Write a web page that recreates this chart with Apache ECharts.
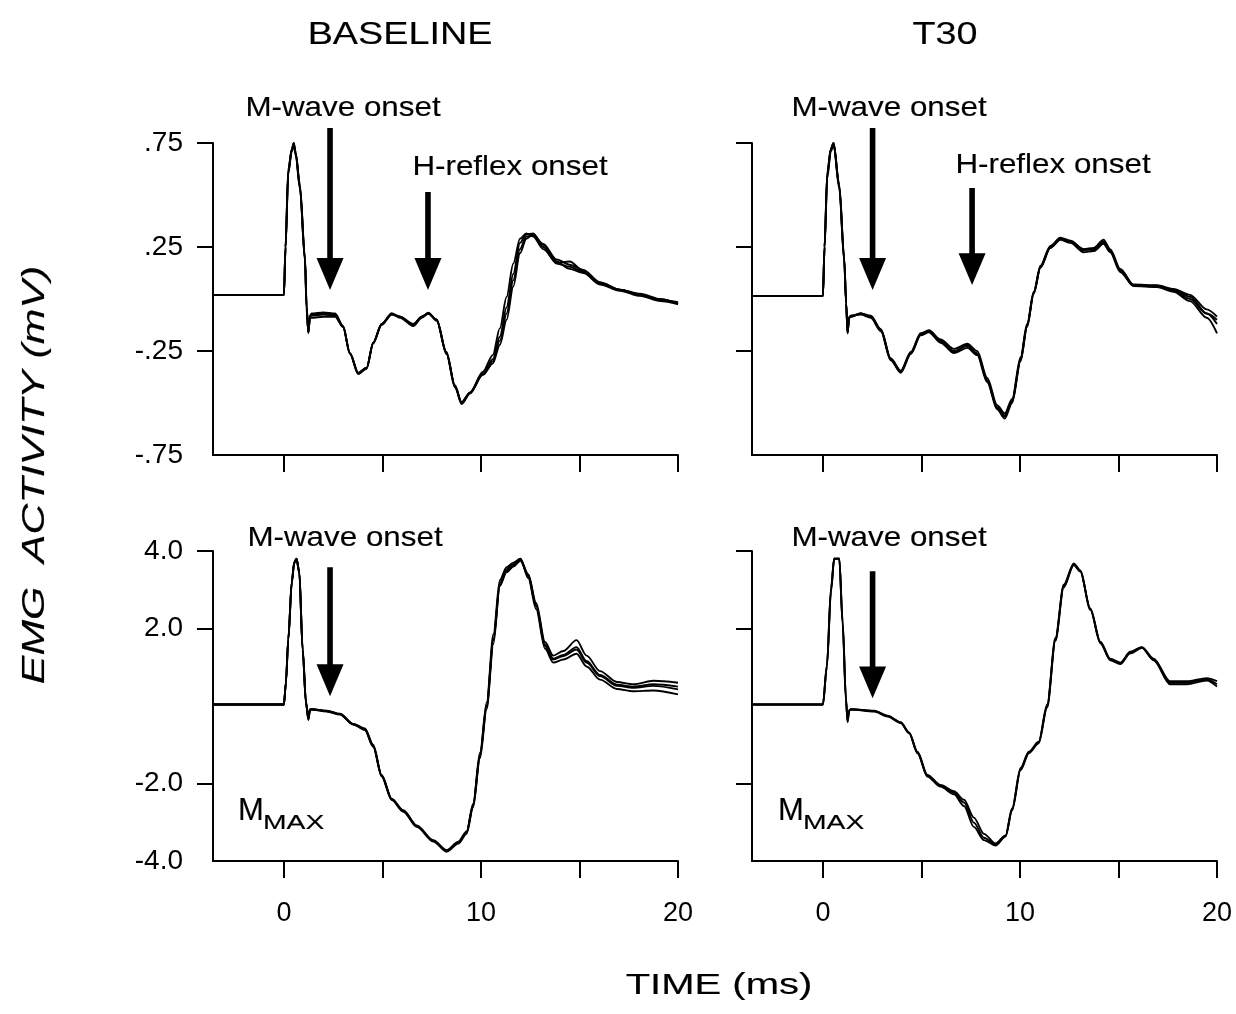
<!DOCTYPE html>
<html><head><meta charset="utf-8">
<script src="https://cdn.jsdelivr.net/npm/echarts@6/dist/echarts.min.js"></script>
<style>html,body{margin:0;padding:0;background:#fff}#c{width:1236px;height:1014px}</style>
</head><body><div id="c"></div><script>
// ---------- DATA ----------
const panelTitles = ['BASELINE', 'T30'];
const xTicks = [0, 5, 10, 15, 20];
const xTickLabels = [0, 10, 20];
const yTicksTop = [-0.25, 0.25, 0.75];
const yLabelsTop = [-0.75, -0.25, 0.25, 0.75];
const yTicksBottom = [-2, 2, 4];
const yLabelsBottom = [-4, -2, 2, 4];

// Top-left (BASELINE, H-reflex)
const tTL = [-3.6,-2,-1,0,0.08,0.22,0.4,0.5,0.6,0.81,1.07,1.15,1.24,1.32,1.4,2.0,2.6,3.0,3.35,3.77,4.2,4.53,4.96,5.47,5.89,6.56,7.0,7.33,7.75,8.25,8.68,9.02,9.44,10.1,10.6,10.96,11.3,11.64,11.98,12.3,12.65,13.16,13.84,14.5,15.2,16.04,17.06,18.07,19.1,20];
const vTL1 = [0.02,0.02,0.02,0.02,0.25,0.62,0.72,0.75,0.7,0.54,0.19,-0.04,-0.165,-0.08,-0.07,-0.065,-0.07,-0.13,-0.26,-0.36,-0.33,-0.21,-0.12,-0.07,-0.085,-0.125,-0.085,-0.066,-0.1,-0.26,-0.42,-0.50,-0.45,-0.36,-0.29,-0.18,-0.04,0.12,0.27,0.31,0.315,0.25,0.17,0.155,0.13,0.075,0.043,0.02,-0.005,-0.02];
const vTL2 = [0.02,0.02,0.02,0.02,0.25,0.62,0.72,0.74,0.69,0.53,0.18,-0.05,-0.16,-0.09,-0.09,-0.085,-0.085,-0.135,-0.26,-0.355,-0.33,-0.21,-0.12,-0.075,-0.085,-0.12,-0.085,-0.07,-0.1,-0.255,-0.42,-0.495,-0.45,-0.35,-0.27,-0.14,0.01,0.17,0.29,0.315,0.3,0.24,0.175,0.18,0.135,0.08,0.045,0.025,0.0,-0.025];
const vTL3 = [0.02,0.02,0.02,0.02,0.24,0.6,0.72,0.75,0.7,0.55,0.2,-0.03,-0.16,-0.08,-0.075,-0.07,-0.075,-0.13,-0.265,-0.36,-0.335,-0.215,-0.12,-0.07,-0.09,-0.13,-0.09,-0.07,-0.1,-0.265,-0.425,-0.505,-0.455,-0.36,-0.3,-0.2,-0.07,0.09,0.24,0.3,0.305,0.26,0.18,0.145,0.125,0.07,0.04,0.015,-0.01,-0.025];
const vTL4 = [0.02,0.02,0.02,0.02,0.25,0.61,0.71,0.74,0.7,0.54,0.19,-0.04,-0.16,-0.085,-0.08,-0.075,-0.08,-0.135,-0.26,-0.355,-0.33,-0.21,-0.125,-0.075,-0.085,-0.125,-0.085,-0.07,-0.105,-0.26,-0.415,-0.5,-0.45,-0.365,-0.31,-0.22,-0.1,0.06,0.22,0.29,0.31,0.265,0.19,0.165,0.14,0.08,0.045,0.02,-0.005,-0.015];

// Top-right (T30, H-reflex)
const tTR = [-3.6,-2,0,0.08,0.22,0.4,0.54,0.83,1.08,1.18,1.25,1.33,1.42,1.92,2.43,2.94,3.44,3.95,4.46,4.96,5.38,5.97,6.65,7.33,7.83,8.34,8.84,9.23,9.6,10.03,10.36,10.7,11.04,11.54,12.05,12.56,13.23,13.74,14.24,14.58,15.09,15.76,16.95,17.79,18.63,19.48,20];
const vTR1 = [0.015,0.015,0.015,0.25,0.6,0.72,0.75,0.54,0.19,-0.02,-0.165,-0.09,-0.085,-0.07,-0.085,-0.15,-0.29,-0.35,-0.26,-0.17,-0.157,-0.205,-0.25,-0.226,-0.26,-0.39,-0.52,-0.56,-0.49,-0.29,-0.13,0.03,0.155,0.25,0.29,0.275,0.235,0.24,0.275,0.235,0.14,0.067,0.064,0.043,0.011,-0.07,-0.1];
const vTR2 = [0.015,0.015,0.015,0.24,0.58,0.71,0.74,0.53,0.18,-0.03,-0.16,-0.09,-0.08,-0.075,-0.09,-0.155,-0.295,-0.355,-0.265,-0.175,-0.16,-0.21,-0.26,-0.235,-0.27,-0.4,-0.53,-0.575,-0.5,-0.3,-0.135,0.025,0.15,0.245,0.285,0.27,0.225,0.23,0.265,0.225,0.13,0.062,0.058,0.035,-0.01,-0.09,-0.165];
const vTR3 = [0.015,0.015,0.015,0.25,0.61,0.72,0.75,0.55,0.2,-0.02,-0.165,-0.085,-0.08,-0.07,-0.08,-0.145,-0.285,-0.345,-0.255,-0.165,-0.15,-0.195,-0.24,-0.215,-0.25,-0.38,-0.51,-0.55,-0.48,-0.28,-0.12,0.035,0.16,0.255,0.295,0.28,0.24,0.245,0.285,0.24,0.145,0.07,0.066,0.048,0.02,-0.05,-0.085];
const vTR4 = [0.015,0.015,0.015,0.25,0.6,0.72,0.75,0.54,0.19,-0.02,-0.16,-0.09,-0.085,-0.07,-0.085,-0.15,-0.29,-0.35,-0.26,-0.17,-0.155,-0.2,-0.255,-0.22,-0.265,-0.395,-0.525,-0.565,-0.495,-0.295,-0.13,0.03,0.155,0.25,0.29,0.275,0.24,0.235,0.27,0.23,0.135,0.065,0.06,0.04,0.0,-0.07,-0.12];

// Bottom-left (BASELINE, M-max)
const tBL = [-3.6,-2,0,0.1,0.22,0.4,0.52,0.64,0.78,0.95,1.12,1.24,1.32,1.4,2.17,2.84,3.52,4.11,4.53,4.96,5.47,6.06,6.74,7.58,8.26,8.85,9.27,9.6,9.95,10.29,10.63,10.96,11.3,11.64,12.0,12.4,12.8,13.25,13.67,14.18,14.85,15.36,16.04,16.9,17.73,18.75,20];
const vBL1 = [0.04,0.04,0.04,0.6,1.72,3.2,3.7,3.8,3.45,1.46,0.09,-0.34,-0.1,-0.085,-0.13,-0.21,-0.47,-0.6,-1.03,-1.8,-2.41,-2.71,-3.1,-3.48,-3.74,-3.53,-3.27,-2.58,-1.29,0,1.72,3.18,3.53,3.66,3.8,3.35,2.58,1.55,1.2,1.29,1.46,1.12,0.77,0.52,0.47,0.52,0.43];
const vBL2 = [0.04,0.04,0.04,0.58,1.7,3.18,3.68,3.8,3.42,1.42,0.05,-0.36,-0.12,-0.09,-0.14,-0.22,-0.48,-0.62,-1.05,-1.82,-2.43,-2.73,-3.12,-3.5,-3.76,-3.55,-3.3,-2.62,-1.35,-0.08,1.6,3.1,3.5,3.62,3.78,3.4,2.66,1.65,1.3,1.42,1.7,1.3,0.9,0.62,0.56,0.65,0.6];
const vBL3 = [0.04,0.04,0.04,0.62,1.75,3.22,3.72,3.8,3.48,1.5,0.12,-0.3,-0.08,-0.08,-0.12,-0.2,-0.46,-0.58,-1.0,-1.78,-2.39,-2.69,-3.08,-3.46,-3.72,-3.5,-3.24,-2.52,-1.2,0.1,1.85,3.25,3.58,3.7,3.8,3.3,2.5,1.48,1.12,1.2,1.35,1.02,0.68,0.44,0.38,0.4,0.3];
const vBL4 = [0.04,0.04,0.04,0.6,1.72,3.2,3.7,3.78,3.44,1.45,0.08,-0.33,-0.1,-0.085,-0.13,-0.21,-0.47,-0.6,-1.03,-1.8,-2.41,-2.71,-3.1,-3.48,-3.74,-3.52,-3.26,-2.56,-1.26,0.02,1.7,3.12,3.45,3.6,3.75,3.38,2.6,1.58,1.22,1.32,1.52,1.16,0.8,0.55,0.5,0.56,0.5];

// Bottom-right (T30, M-max)
const tBR = [-3.6,-2,0,0.2,0.41,0.57,0.83,1.0,1.17,1.25,1.33,1.42,2.6,3.28,3.95,4.37,4.8,5.3,5.97,6.65,7.16,7.66,8.17,8.76,9.27,9.6,10.03,10.45,10.95,11.38,11.8,12.22,12.73,13.06,13.57,14.08,14.58,15.09,15.6,16.19,16.78,17.62,18.47,19.48,20];
const vBR1 = [0.04,0.04,0.04,1.03,3.0,3.8,3.8,2.15,0.17,-0.39,-0.12,-0.085,-0.13,-0.26,-0.43,-0.69,-1.2,-1.8,-2.06,-2.24,-2.49,-3.01,-3.4,-3.57,-3.35,-2.67,-1.63,-1.2,-0.94,0,1.72,3.1,3.66,3.48,2.5,1.64,1.2,1.1,1.38,1.51,1.2,0.6,0.6,0.69,0.56];
const vBR2 = [0.04,0.04,0.04,1.0,2.95,3.8,3.8,2.1,0.12,-0.42,-0.13,-0.09,-0.14,-0.27,-0.44,-0.7,-1.22,-1.82,-2.08,-2.28,-2.58,-3.12,-3.46,-3.6,-3.37,-2.7,-1.66,-1.22,-0.96,-0.04,1.68,3.06,3.64,3.47,2.52,1.66,1.22,1.12,1.4,1.52,1.22,0.64,0.64,0.72,0.64];
const vBR3 = [0.04,0.04,0.04,1.06,3.05,3.8,3.8,2.2,0.2,-0.36,-0.11,-0.08,-0.12,-0.25,-0.42,-0.68,-1.18,-1.78,-2.04,-2.2,-2.42,-2.88,-3.3,-3.55,-3.34,-2.64,-1.6,-1.18,-0.92,0.04,1.76,3.13,3.68,3.5,2.48,1.62,1.18,1.08,1.36,1.5,1.18,0.56,0.56,0.66,0.5];

// Arrow annotations: [grid, time, top value, head-base value, tip value]
const arrows = [
  [0, 2.34, 0.822, 0.197, 0.043],
  [0, 7.31, 0.514, 0.197, 0.043],
  [1, 2.52, 0.822, 0.197, 0.043],
  [1, 7.57, 0.534, 0.22, 0.067],
  [2, 2.34, 3.58, 1.08, 0.25],
  [3, 2.52, 3.48, 1.02, 0.2]
];

// ---------- CHART ----------
const FF = "'Liberation Sans', Arial, Helvetica, sans-serif";
const chart = echarts.init(document.getElementById('c'), null, {renderer: 'canvas'});

const grids = [
  {left: 213, top: 143, width: 465, height: 312},
  {left: 752, top: 143, width: 465, height: 312},
  {left: 213, top: 551, width: 465, height: 310},
  {left: 752, top: 551, width: 465, height: 310}
];

function xAxisFor(i) {
  return {
    type: 'value', gridIndex: i, min: -3.6, max: 20,
    axisLine: {show: true, onZero: false, lineStyle: {color: '#000', width: 2}},
    axisTick: {show: true, customValues: xTicks, length: 17, lineStyle: {color: '#000', width: 2}},
    axisLabel: {show: i >= 2, customValues: xTickLabels, fontSize: 27, color: '#000', fontFamily: FF, margin: 39},
    splitLine: {show: false}
  };
}
function yAxisFor(i) {
  const top = i < 2;
  return {
    type: 'value', gridIndex: i,
    min: top ? -0.75 : -4, max: top ? 0.75 : 4,
    axisLine: {show: true, onZero: false, lineStyle: {color: '#000', width: 2}},
    axisTick: {show: true, customValues: top ? yTicksTop : yTicksBottom, length: 16, lineStyle: {color: '#000', width: 2}},
    axisLabel: {
      show: i % 2 === 0,
      customValues: top ? yLabelsTop : yLabelsBottom,
      fontSize: 28, color: '#000', fontFamily: FF, margin: 30,
      formatter: function (v) {
        if (top) { return (v < 0 ? '-' : '') + '.' + String(Math.round(Math.abs(v) * 100)); }
        return v.toFixed(1);
      }
    },
    splitLine: {show: false}
  };
}

function zip(t, v) { return t.map(function (x, k) { return [x, v[k]]; }); }
const traces = [
  [0, tTL, [vTL1, vTL2, vTL3, vTL4]],
  [1, tTR, [vTR1, vTR2, vTR3, vTR4]],
  [2, tBL, [vBL1, vBL2, vBL3, vBL4]],
  [3, tBR, [vBR1, vBR2, vBR3]]
];
const series = [];
traces.forEach(function (p) {
  p[2].forEach(function (v) {
    series.push({
      type: 'line', xAxisIndex: p[0], yAxisIndex: p[0], data: zip(p[1], v),
      showSymbol: false, symbol: 'none', smooth: 0.3, smoothMonotone: 'x',
      lineStyle: {color: '#000', width: 1.9}, clip: false, silent: true
    });
  });
});

chart.setOption({
  animation: false,
  backgroundColor: '#fff',
  grid: grids,
  xAxis: [0, 1, 2, 3].map(xAxisFor),
  yAxis: [0, 1, 2, 3].map(yAxisFor),
  series: series
});

// ---------- ANNOTATIONS ----------
const g = [];
function txt(text, x, y, size, opts) {
  opts = opts || {};
  g.push({
    type: 'text', x: x, y: y, scaleX: opts.sx || 1, rotation: opts.rot || 0, z: 10,
    style: {
      text: text, fill: '#000', stroke: '#000', lineWidth: 0.15,
      font: (opts.italic ? 'italic ' : '') + size + 'px ' + FF,
      align: opts.align || 'center', verticalAlign: 'middle'
    }
  });
}
txt(panelTitles[0], 400, 35, 32, {sx: 1.18});
txt(panelTitles[1], 945, 35, 32, {sx: 1.18});
txt('M-wave onset', 343, 108, 28, {sx: 1.12});
txt('H-reflex onset', 510, 167, 28, {sx: 1.12});
txt('M-wave onset', 889, 108, 28, {sx: 1.12});
txt('H-reflex onset', 1053, 165, 28, {sx: 1.12});
txt('M-wave onset', 345, 538, 28, {sx: 1.12});
txt('M-wave onset', 889, 538, 28, {sx: 1.12});
txt('M', 238, 811, 31, {align: 'left'});
txt('MAX', 263, 823, 21, {align: 'left', sx: 1.35});
txt('M', 778, 811, 31, {align: 'left'});
txt('MAX', 803, 823, 21, {align: 'left', sx: 1.35});
txt('TIME (ms)', 719, 986, 29, {sx: 1.38});
txt('EMG  ACTIVITY (mV)', 35, 475, 31, {sx: 1.38, rot: Math.PI / 2, italic: true});

arrows.forEach(function (a) {
  const pTop = chart.convertToPixel({gridIndex: a[0]}, [a[1], a[2]]);
  const pBase = chart.convertToPixel({gridIndex: a[0]}, [a[1], a[3]]);
  const pTip = chart.convertToPixel({gridIndex: a[0]}, [a[1], a[4]]);
  const x = pTop[0], sw = 2.8, hw = 13.5;
  g.push({
    type: 'polygon', z: 10,
    shape: {points: [[x - sw, pTop[1]], [x + sw, pTop[1]], [x + sw, pBase[1]], [x + hw, pBase[1]], [x, pTip[1]], [x - hw, pBase[1]], [x - sw, pBase[1]]]},
    style: {fill: '#000'}
  });
});
chart.setOption({graphic: g});
</script></body></html>
